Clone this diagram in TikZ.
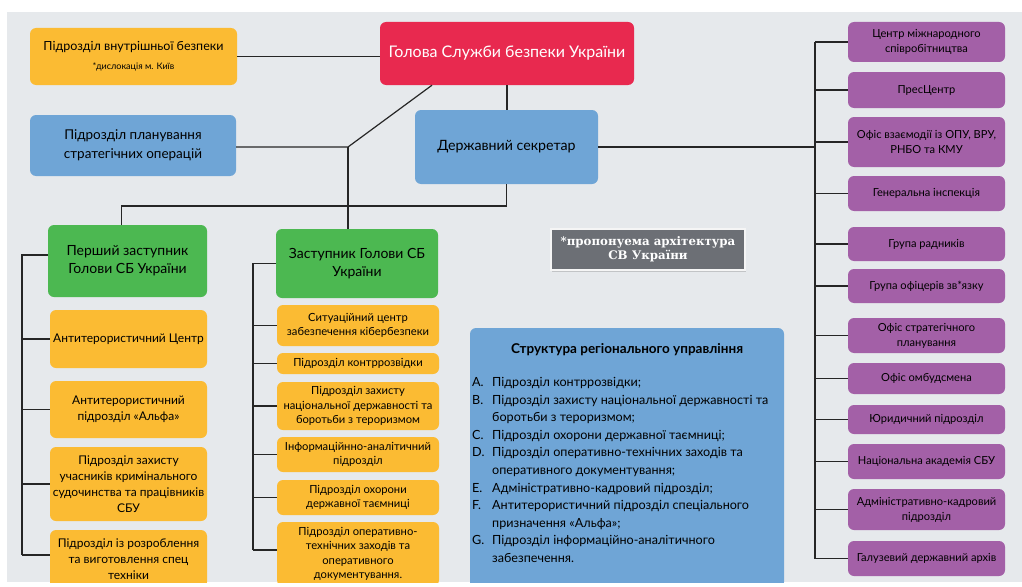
\documentclass[tikz,border=0pt]{standalone}
\usepackage{fontspec}
\setmainfont{Lato}
\newfontfamily\plashkafont{DejaVu Serif}
\usetikzlibrary{positioning,shadows,calc}

\definecolor{fonkol}{RGB}{230,233,236}
\definecolor{pomarkol}{RGB}{251,187,51}
\definecolor{malynkol}{RGB}{232,41,79}
\definecolor{blakytkol}{RGB}{111,165,214}
\definecolor{zelenkol}{RGB}{76,184,81}
\definecolor{fioletkol}{RGB}{163,96,167}
\definecolor{plashkakol}{RGB}{108,111,117}

\tikzset{
  blok/.style={rounded corners=6pt, align=center, inner sep=2pt},
  livyi/.style={blok, fill=pomarkol, minimum width=157pt, font=\fontsize{12}{16}\selectfont},
  serednii/.style={blok, fill=pomarkol, minimum width=162pt, font=\fontsize{11.2}{14.5}\selectfont},
  pravyi/.style={blok, fill=fioletkol, minimum width=157pt, font=\fontsize{11.1}{15}\selectfont},
  zastup/.style={blok, fill=zelenkol, font=\fontsize{14}{18}\selectfont},
  synii/.style={blok, fill=blakytkol, font=\fontsize{13.5}{19}\selectfont},
  zvjazok/.style={draw=black!85, line width=1.2pt}
}

\begin{document}
\begin{tikzpicture}[x=1pt,y=-1pt]
    \useasboundingbox (0,0) rectangle (1022,586);
    \begin{scope}
    \clip (7,12) rectangle (1022,582);
    \fill[fonkol] (7,12) rectangle (1022,582);

    % Керівництво
    \node[blok, fill=pomarkol, minimum width=207pt, minimum height=57pt,
          font=\fontsize{12.5}{14}\selectfont] (vb) at (133.5,56.5)
        {Підрозділ внутрішньої безпеки\\[5pt]\fontsize{9}{10}\selectfont *дислокація м. Київ};
    \node[blok, fill=malynkol, text=white, minimum width=254pt, minimum height=63pt,
          font=\fontsize{16}{19}\selectfont] (holova) at (507,53.5) {Голова Служби безпеки України};
    \node[synii, minimum width=206pt, minimum height=61pt] (planuv) at (133,145.5)
        {Підрозділ планування\\стратегічних операцій};
    \node[synii, minimum width=183pt, minimum height=74pt, font=\fontsize{14.2}{19}\selectfont] (sekretar) at (506.5,147)
        {Державний секретар};

    % Заступники
    \node[zastup, minimum width=159pt, minimum height=72pt] (zast1) at (127.5,261)
        {Перший заступник\\Голови СБ України};
    \node[zastup, minimum width=162pt, minimum height=69pt] (zast2) at (357,263.5)
        {Заступник Голови СБ\\України};

    % Лівий стовпчик
    \foreach \n/\y/\h/\t in {
        l1/339/58/{Антитерористичний Центр},
        l2/409.5/57/{Антитерористичний\\підрозділ «Альфа»},
        l3/484/74/{Підрозділ захисту\\учасників кримінального\\судочинства та працівників\\СБУ},
        l4/559/58/{Підрозділ із розроблення\\та виготовлення спец\\техніки}}
        \node[livyi, minimum height=\h pt] (\n) at (128.5,\y) {\t};

    % Середній стовпчик
    \foreach \n/\y/\h/\t in {
        m1/325.5/41/{Ситуаційний центр\\забезпечення кібербезпеки},
        m2/363.5/21/{Підрозділ контррозвідки},
        m3/406/48/{Підрозділ захисту\\національної державності та\\боротьби з тероризмом},
        m4/454.5/35/{Інформаційнно-аналітичний\\підрозділ},
        m5/497.5/35/{Підрозділ охорони\\державної таємниці},
        m6/554/64/{Підрозділ оперативно-\\технічних заходів та\\оперативного\\документування.}}
        \node[serednii, minimum height=\h pt] (\n) at (358,\y) {\t};

    % Правий стовпчик
    \foreach \n/\y/\h/\t in {
        p1/42/40/{Центр міжнародного\\співробітництва},
        p2/90/36/{ПресЦентр},
        p3/142/50/{Офіс взаємодії із ОПУ, ВРУ,\\РНБО та КМУ},
        p4/193.5/35/{Генеральна інспекція},
        p5/244/34/{Група радників},
        p6/286/34/{Група офіцерів зв*язку},
        p7/335.5/35/{Офіс стратегічного\\планування},
        p8/378.5/31/{Офіс омбудсмена},
        p9/419.5/29/{Юридичний підрозділ},
        p10/461.5/35/{Національна академія СБУ},
        p11/509.5/41/{Адміністративно-кадровий\\підрозділ},
        p12/558.5/35/{Галузевий державний архів}}
        \node[pravyi, minimum height=\h pt] (\n) at (926.5,\y) {\t};

    % Примітка
    \node[fill=plashkakol, draw=white!92!gray, line width=1.8pt, text=white, align=center,
          minimum width=194pt, minimum height=41pt,
          font=\plashkafont\bfseries\fontsize{11.8}{14}\selectfont,
          drop shadow={opacity=0.35, shadow xshift=1pt, shadow yshift=-2pt}] (prymitka) at (648,249.5)
        {*пропонуема архітектура\\СВ України};

    % Регіональне управління
    \node[blok, fill=blakytkol, minimum width=314pt, minimum height=260pt] (region) at (627,458) {};
    \node[font=\bfseries\fontsize{13.5}{15}\selectfont] (regtitle) at (627,350) {Структура регіонального управління};
    \node[anchor=north west, inner sep=0pt, font=\fontsize{12.6}{17.6}\selectfont] (reglist) at (472,374) {%
        \begin{tabular}{@{}p{20pt}@{}l@{}}
        A. & Підрозділ контррозвідки;\\
        B. & Підрозділ захисту національної державності та\\
           & боротьби з тероризмом;\\
        C. & Підрозділ охорони державної таємниці;\\
        D. & Підрозділ оперативно-технічних заходів та\\
           & оперативного документування;\\
        E. & Адміністративно-кадровий підрозділ;\\
        F. & Антитерористичний підрозділ спеціального\\
           & призначення «Альфа»;\\
        G. & Підрозділ інформаційно-аналітичного\\
           & забезпечення.
        \end{tabular}};

    % Зв'язки
    \coordinate (vuzol) at (348,147);
    \coordinate (rivnyk) at (0,206);
    \coordinate (shynaL) at (22,0);
    \coordinate (shynaM) at (253,0);
    \coordinate (shynaR) at (815,0);

    \draw[zvjazok] (vb.east) -- (vb.east -| holova.west);
    \draw[zvjazok] (holova.south) -- (holova.south |- sekretar.north);
    \draw[zvjazok] (planuv.east |- vuzol) -- (vuzol) -- ($(holova.south)+(-75,0)$);
    \draw[zvjazok] (vuzol) -- (vuzol |- zast2.north);
    \draw[zvjazok] (sekretar.south) -- (sekretar.south |- rivnyk) -| ($(zast1.north)+(-6,0)$);

    \draw[zvjazok] (sekretar.east) -- (sekretar.east -| shynaR);
    \draw[zvjazok] (p1.west -| shynaR) -- (p12.west -| shynaR);
    \foreach \i in {1,...,12}
        \draw[zvjazok] (p\i.west -| shynaR) -- (p\i.west);

    \coordinate (l0) at ($(zast1.west)+(0,-6)$);
    \draw[zvjazok] (l0) -- (l0 -| shynaL) -- ($(l4.west -| shynaL)+(0,-4)$);
    \foreach \i in {1,2,3}
        \draw[zvjazok] (l\i.west -| shynaL) -- (l\i.west);
    \draw[zvjazok] ($(l4.west -| shynaL)+(0,-4)$) -- ($(l4.west)+(0,-4)$);

    \draw[zvjazok] (zast2.west) -- (zast2.west -| shynaM) -- ($(m6.west -| shynaM)+(0,-4)$);
    \foreach \i in {1,...,5}
        \draw[zvjazok] (m\i.west -| shynaM) -- (m\i.west);
    \draw[zvjazok] ($(m6.west -| shynaM)+(0,-4)$) -- ($(m6.west)+(0,-4)$);
    \end{scope}
\end{tikzpicture}
\end{document}
